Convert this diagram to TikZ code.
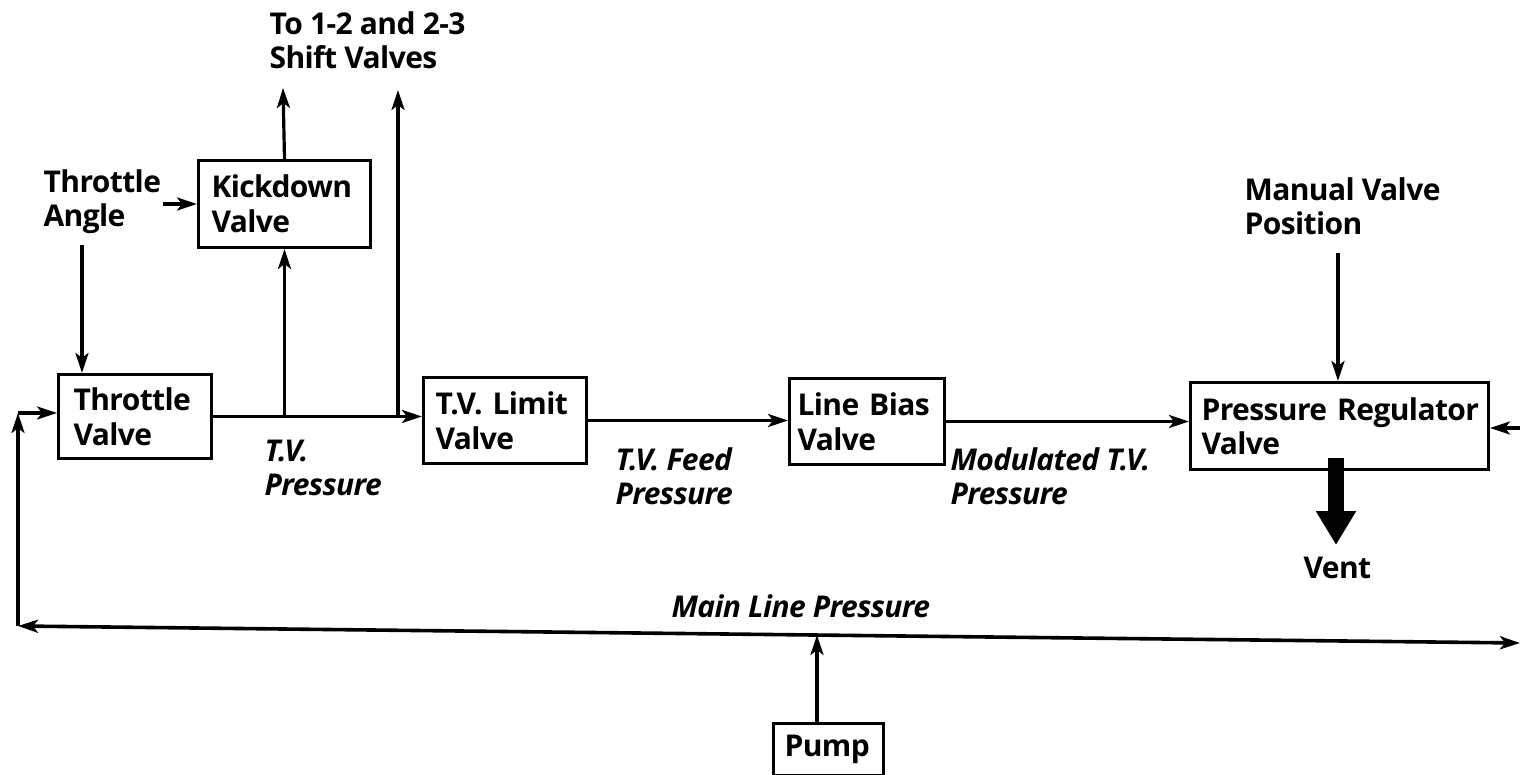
\documentclass[tikz,border=0pt]{standalone}
\usepackage{fontspec}
\setmainfont{Open Sans}[LetterSpace=-2]
\usetikzlibrary{arrows.meta}
\newcommand\lblfont{\fontsize{30}{34.5}\selectfont\bfseries}
\begin{document}
\begin{tikzpicture}[x=1pt,y=-1pt,line width=3.2pt,
  tip/.tip={Stealth[length=20pt,width=13pt,inset=5pt]},
  arr/.style={-tip},
  box/.style={draw,line width=3pt,anchor=north west,inner ysep=0pt,align=left,font=\lblfont},
  lab/.style={anchor=north west,inner sep=0pt,align=left,font=\lblfont},
  ilab/.style={lab,font=\lblfont\itshape},
  ventarrow/.style={line width=16pt,-{Triangle[length=34pt,width=38pt]}}]
\useasboundingbox (0,0) rectangle (1520,775);
% boxes
\node[box,minimum height=84pt,text width=123pt,inner xsep=15pt] (tv) at (57,373) {Throttle\\Valve};
\node[box,minimum height=87pt,text width=146pt,inner xsep=13pt] (kd) at (197,159) {Kickdown\\Valve};
\node[box,minimum height=86pt,text width=139pt,inner xsep=12pt] (tvl) at (422,376) {\mbox{T.V. Limit}\\Valve};
\node[box,minimum height=86pt,text width=139pt,inner xsep=8pt] (lb) at (788,377) {\mbox{Line Bias}\\Valve};
\node[box,minimum height=87pt,text width=276pt,inner xsep=11pt] (prv) at (1189,381) {\mbox{Pressure Regulator}\\Valve};
\node[box,minimum height=52pt,text width=88pt,inner xsep=11pt] (pump) at (772,722) {Pump};
% labels
\node[lab] (ta) at (42,168) {Throttle\\Angle};
\node[lab] (sv) at (268,10) {To 1-2 and 2-3\\Shift Valves};
\node[lab] (mvp) at (1243,176) {Manual Valve\\Position};
\node[ilab] (tvp) at (263,438) {T.V.\\Pressure};
\node[ilab] (fdp) at (614,446) {T.V. Feed\\Pressure};
\node[ilab] (mtp) at (949,446) {Modulated T.V.\\Pressure};
\node[ilab] (mlp) at (670,593) {Main Line Pressure};
\node[lab] (vent) at (1302,555) {Vent};
% coordinates
\coordinate (ang) at (82,245);
\coordinate (out1) at (283,88);
\coordinate (out2) at (398,90);
\coordinate (man) at (1338,253);
\coordinate (rin) at (1520,428);
\coordinate (vs) at (1336,458);
\coordinate (vt) at (1336,545);
\coordinate (ml) at (18,626);
\coordinate (mr) at (1520,643);
\coordinate (lc) at (18,413);
\coordinate (pj) at (817,635);
% connectors
\draw[arr] (kd.west -| ta.east) -- (kd.west);
\draw[arr] (ang) -- (ang |- tv.north);
\draw[arr] (tv.east) -- (tv.east -| tvl.west);
\draw[arr] (kd.south |- tv.east) -- (kd.south);
\draw[arr] (kd.north) -- (out1);
\draw[arr] (out2 |- tv.east) -- (out2);
\draw[arr] (tvl.east) -- (tvl.east -| lb.west);
\draw[arr] (lb.east) -- (lb.east -| prv.west);
\draw[arr] (man) -- (man |- prv.north);
\draw[arr] (rin) -- (rin -| prv.east);
\draw[ventarrow] (vs) -- (vt);
\draw[tip-tip,line width=3.6pt] (ml) -- (mr);
\draw[arr] (ml) -- (lc);
\draw[arr] (lc) -- (lc -| tv.west);
\draw[arr] (pj |- pump.north) -- (pj);
\end{tikzpicture}
\end{document}
